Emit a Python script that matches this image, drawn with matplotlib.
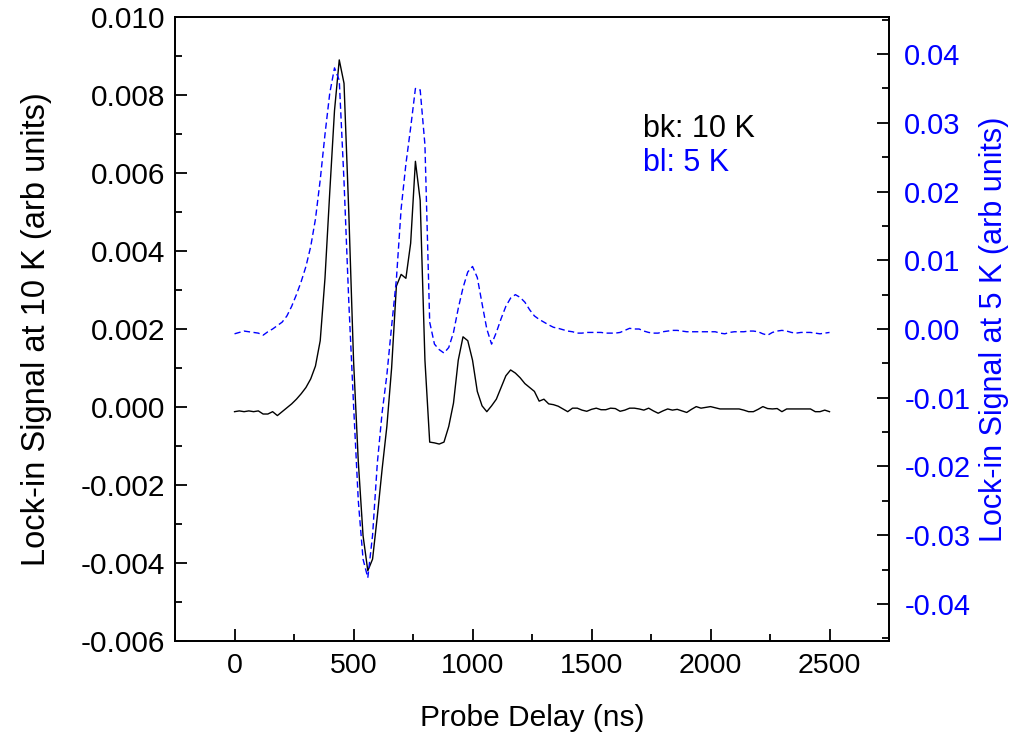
import matplotlib.pyplot as plt
from matplotlib.ticker import MultipleLocator

plt.rcParams['font.family'] = ['Liberation Sans', 'DejaVu Sans']

# probe delay grid (ns)
delay = list(range(0, 2501, 20))

# lock-in signal at 10 K (left axis)
sig_10k = [
    -0.00012, -0.00010, -0.00012, -0.00010, -0.00012, -0.00010, -0.00018, -0.00018,
    -0.00012, -0.00022, -0.00012, -0.00002, 0.00008, 0.00020, 0.00034, 0.00050,
    0.00072, 0.00105, 0.0017, 0.0033, 0.0055, 0.0076, 0.0089, 0.0083,
    0.0050, 0.0012, -0.0014, -0.0033, -0.0042, -0.0039, -0.0028, -0.0016,
    -0.0005, 0.0010, 0.0031, 0.0034, 0.0033, 0.0042, 0.0063, 0.0053,
    0.0012, -0.0009, -0.00092, -0.00095, -0.0009, -0.0005, 0.0001, 0.0012,
    0.0018, 0.0017, 0.0012, 0.0004, 0.00003, -0.00012, 0.00003, 0.0002,
    0.0005, 0.0008, 0.00095, 0.00087, 0.00075, 0.0006, 0.0005, 0.0004,
    0.00015, 0.0002, 0.00008, 0.00006, 0.00002, -0.00005, -0.00012, -0.00003,
    -0.00003, -0.00008, -0.00011, -0.00006, -0.00003, -0.00007, -0.00007, -0.00003,
    -0.00004, -0.00011, -0.00008, -0.00003, -0.00003, -0.00005, -0.00008, -0.00003,
    -0.00010, -0.00016, -0.00010, -0.00005, -0.00008, -0.00006, -0.00010, -0.00014,
    -0.00006, 0.00001, -0.00003, -0.00001, 0.00001, -0.00002, -0.00005, -0.00005,
    -0.00005, -0.00005, -0.00005, -0.00008, -0.00012, -0.00012, -0.00006, 0.00001,
    -0.00004, -0.00005, -0.00004, -0.00012, -0.00005, -0.00005, -0.00005, -0.00005,
    -0.00005, -0.00005, -0.00012, -0.00012, -0.00008, -0.00012,
]

# lock-in signal at 5 K (right axis)
sig_5k = [
    -0.0007, -0.0005, -0.0003, -0.0004, -0.0005, -0.0006, -0.0009, -0.0004,
    0.0000, 0.0005, 0.0010, 0.0019, 0.0033, 0.0050, 0.0069, 0.0091,
    0.0120, 0.0160, 0.0217, 0.0283, 0.0343, 0.0380, 0.0362, 0.0215,
    0.0040, -0.0110, -0.0250, -0.0335, -0.0362, -0.0300, -0.0195, -0.0122,
    -0.0067, 0.0004, 0.0072, 0.0175, 0.0240, 0.0293, 0.0350, 0.0348,
    0.0268, 0.0010, -0.0022, -0.0030, -0.0035, -0.0027, -0.0005, 0.0030,
    0.0060, 0.0083, 0.0091, 0.0075, 0.0037, 0.0000, -0.0022, -0.0005,
    0.0015, 0.0033, 0.0045, 0.0050, 0.0046, 0.0039, 0.0028, 0.0019,
    0.0014, 0.0010, 0.0006, 0.00025, 0.0001, -0.0001, -0.0003, -0.0004,
    -0.0006, -0.0006, -0.0005, -0.0005, -0.0005, -0.0005, -0.0006, -0.0006,
    -0.0006, -0.0005, -0.0002, 0.0001, 0.0000, 0.0000, -0.0003, -0.0005,
    -0.0006, -0.0006, -0.0004, -0.0003, -0.0002, -0.0002, -0.0003, -0.0004,
    -0.0004, -0.0004, -0.0004, -0.0004, -0.0004, -0.0004, -0.0006, -0.0007,
    -0.0005, -0.0004, -0.0004, -0.0004, -0.0003, -0.0003, -0.0004, -0.0007,
    -0.0009, -0.0005, -0.0003, -0.0002, -0.0003, -0.0005, -0.0006, -0.0005,
    -0.0005, -0.0005, -0.0006, -0.0007, -0.0006, -0.0005,
]

fig = plt.figure(figsize=(10.13, 7.43), dpi=100)
ax = fig.add_axes([0.1728, 0.1373, 0.7048, 0.8398])
ax2 = ax.twinx()

ax.plot(delay, sig_10k, color='black', lw=1.0)
ax2.plot(delay, sig_5k, color='#0000ff', lw=1.0, linestyle=(0, (4.5, 2.5)))

ax.set_xlim(-250, 2750)
ax.set_ylim(-0.006, 0.010)
ax2.set_ylim(-0.0454, 0.0454)

ax.xaxis.set_major_locator(MultipleLocator(500))
ax.xaxis.set_minor_locator(MultipleLocator(250))
ax.yaxis.set_major_locator(MultipleLocator(0.002))
ax.yaxis.set_minor_locator(MultipleLocator(0.001))
ax2.yaxis.set_major_locator(MultipleLocator(0.01))
ax2.yaxis.set_minor_locator(MultipleLocator(0.005))
ax.yaxis.set_major_formatter(lambda v, p: f"{v:.3f}")
ax2.yaxis.set_major_formatter(lambda v, p: f"{v:.2f}")

ax.tick_params(which='both', direction='in', width=1.3, top=False, right=False)
ax.tick_params(which='major', length=8.5)
ax.tick_params(which='minor', length=5)
ax.tick_params(axis='y', labelsize=21.5, pad=7)
ax.tick_params(axis='x', labelsize=20.5, pad=9)
ax2.tick_params(which='both', direction='in', width=1.3, labelcolor='#0000ff')
ax2.tick_params(which='major', length=8.5, labelsize=21, pad=11)
ax2.tick_params(which='minor', length=5)

for a in (ax, ax2):
    for s in a.spines.values():
        s.set_linewidth(1.3)

ax.set_xlabel("Probe Delay (ns)", fontsize=21.5, labelpad=18)
ax.set_ylabel("Lock-in Signal at 10 K (arb units)", fontsize=23.5, labelpad=21)
ax2.set_ylabel("Lock-in Signal at 5 K (arb units)", fontsize=22, color='#0000ff', labelpad=6)

ax.text(0.655, 0.8205, "bk: 10 K", transform=ax.transAxes, fontsize=22, va='center')
ax.text(0.655, 0.766, "bl: 5 K", transform=ax.transAxes, fontsize=22, va='center', color='#0000ff')

fig.savefig("out.png", dpi=100)
